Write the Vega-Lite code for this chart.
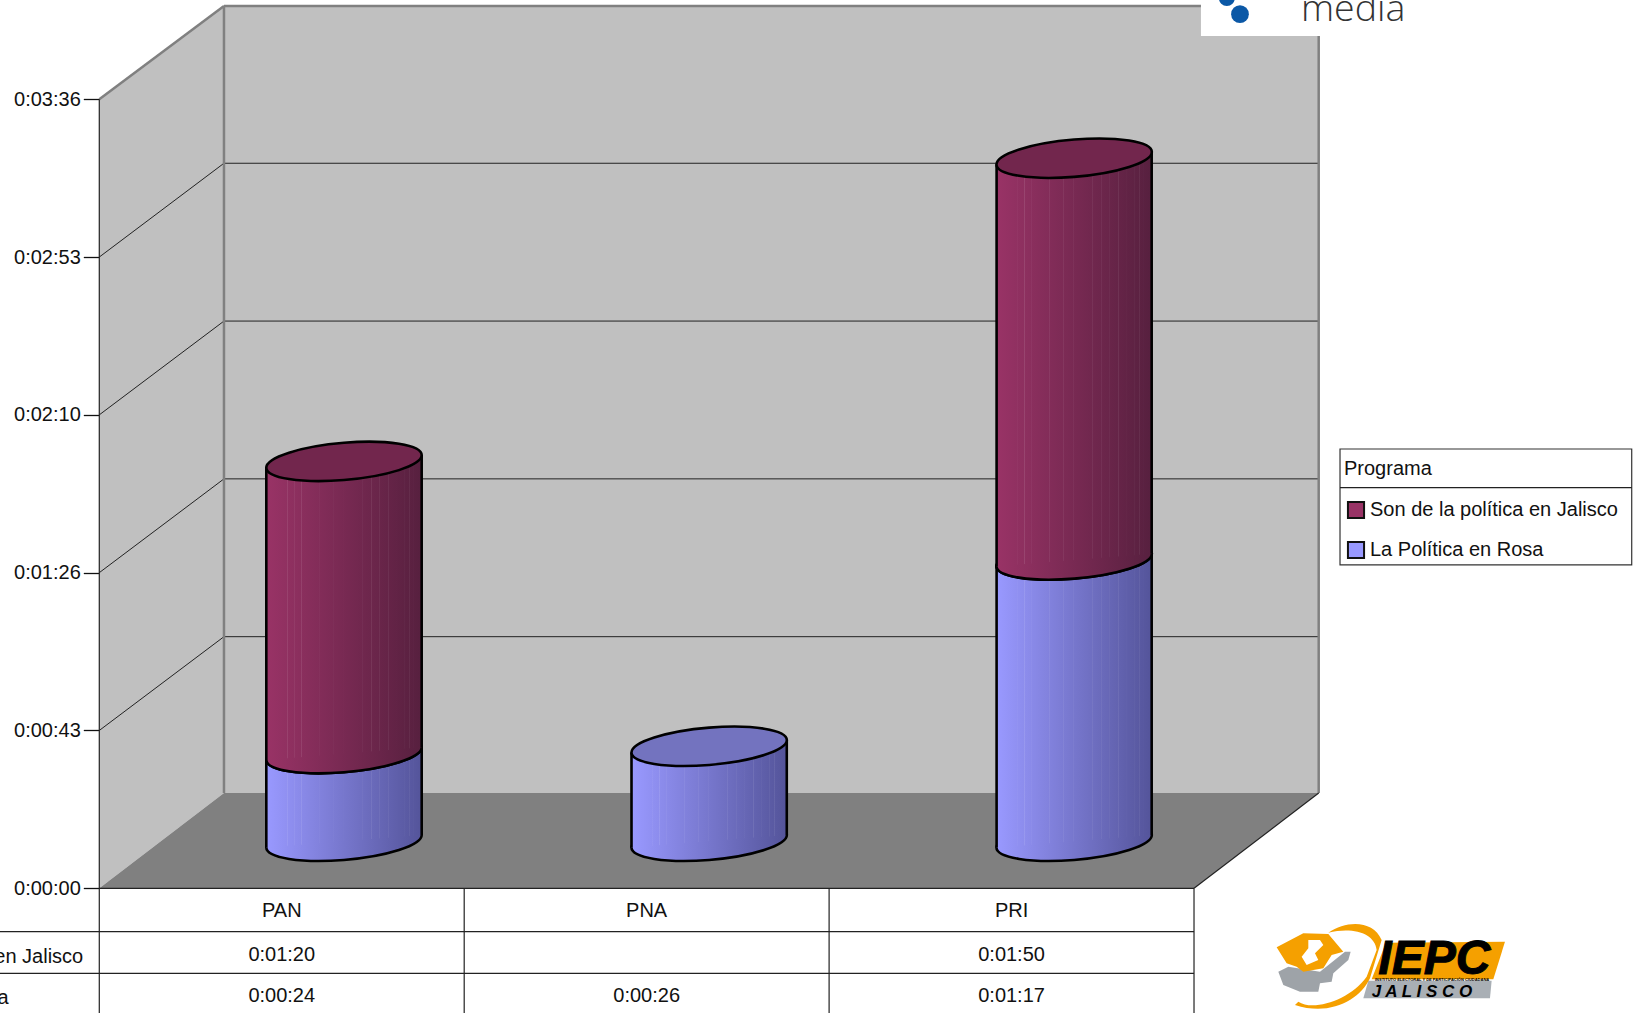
{"$schema":"https://vega.github.io/schema/vega-lite/v6.json","width":1645,"height":1013,"padding":0,"autosize":{"type":"none"},"background":"white",
"config":{"view":{"stroke":null},"font":"Liberation Sans","text":{"font":"Liberation Sans"}},
"datasets":{
"barras":[
{"partido":"PAN","programa":"La Política en Rosa","segundos":24,"inicio":0,"fin":24,"izq":0.4577,"centro":0.6706,"der":0.8835},
{"partido":"PAN","programa":"Son de la política en Jalisco","segundos":80,"inicio":24,"fin":104,"izq":0.4577,"centro":0.6706,"der":0.8835},
{"partido":"PNA","programa":"La Política en Rosa","segundos":26,"inicio":0,"fin":26,"izq":1.4585,"centro":1.6713,"der":1.884},
{"partido":"PRI","programa":"La Política en Rosa","segundos":77,"inicio":0,"fin":77,"izq":2.459,"centro":2.6715,"der":2.884},
{"partido":"PRI","programa":"Son de la política en Jalisco","segundos":110,"inicio":77,"fin":187,"izq":2.459,"centro":2.6715,"der":2.884}],
"marcas":[{"marca":43.2},{"marca":86.4},{"marca":129.6},{"marca":172.8},{"marca":216}],
"paredIzq":[{"x":0,"y":0,"y2":216},{"x":0.3417,"y":26.1,"y2":241.5}],
"piso":[{"x":0,"y":0,"y2":0},{"x":0.3417,"y":0,"y2":26.1},{"x":3,"y":0,"y2":26.1},{"x":3.3417,"y":26.1,"y2":26.1}],
"gris":[{"x":0,"x2":0.3417,"y":216,"y2":241.5},{"x":0.3417,"x2":0.3417,"y":26.1,"y2":241.5},{"x":0.3417,"x2":3.3417,"y":241.5,"y2":241.5},{"x":3.3417,"x2":3.3417,"y":26.1,"y2":241.5}],
"negro":[{"x":0,"x2":0,"y":-34.14,"y2":216},{"x":0,"x2":3,"y":0,"y2":0},{"x":3,"x2":3.3417,"y":0,"y2":26.1},{"x":3,"x2":3,"y":-34.14,"y2":0},{"x":1,"x2":1,"y":-34.14,"y2":0},{"x":2,"x2":2,"y":-34.14,"y2":0},{"x":-0.2721,"x2":3,"y":-11.88,"y2":-11.88},{"x":-0.2721,"x2":3,"y":-23.27,"y2":-23.27},{"x":3.4001,"x2":4.1995,"y":109.66,"y2":109.66}],
"tabla":[
{"x":0.5,"y":-6.1,"texto":"PAN"},{"x":1.5,"y":-6.1,"texto":"PNA"},{"x":2.5,"y":-6.1,"texto":"PRI"},
{"x":0.5,"y":-18.2,"texto":"0:01:20"},{"x":2.5,"y":-18.2,"texto":"0:01:50"},
{"x":0.5,"y":-29.4,"texto":"0:00:24"},{"x":1.5,"y":-29.4,"texto":"0:00:26"},{"x":2.5,"y":-29.4,"texto":"0:01:17"}],
"filas":[{"x":-0.7235,"y":-18.7,"texto":"Son de la política en Jalisco"},{"x":-0.7235,"y":-29.9,"texto":"La Política en Rosa"}],
"ancla":[{"x":3.1808,"y":-5.94}]
},
"layer":[
{"data":{"name":"paredIzq"},"mark":{"type":"area","color":"#C0C0C0"},"encoding":{"x":{"field":"x","type":"quantitative","axis":null,"scale":{"domain":[-0.2721,4.2359],"nice":false,"zero":false}},"y":{"field":"y","type":"quantitative","stack":null,"scale":{"domain":[-34.14,243.17],"nice":false,"zero":false},"axis":{"title":null,"values":[0,43.2,86.4,129.6,172.8,216],"labelExpr":"'0:'+timeFormat(datetime(2000,0,1,0,0,round(datum.value)),'%M:%S')","domain":false,"grid":false,"tickSize":16,"tickColor":"#111","tickWidth":1.3,"labelPadding":3,"labelFont":"Liberation Sans","labelFontSize":20,"labelColor":"#111","offset":-99.3,"labelOverlap":false,"labelBound":false,"labelFlush":false}},"y2":{"field":"y2"}}},
{"data":{"values":[{"x":0.3417,"x2":3.3417,"y":26.1,"y2":241.5}]},"mark":{"type":"rect","color":"#C0C0C0"},"encoding":{"x":{"field":"x","type":"quantitative","axis":null},"x2":{"field":"x2"},"y":{"field":"y","type":"quantitative"},"y2":{"field":"y2"}}},
{"data":{"name":"piso"},"mark":{"type":"area","color":"#808080"},"encoding":{"x":{"field":"x","type":"quantitative","axis":null},"y":{"field":"y","type":"quantitative","stack":null},"y2":{"field":"y2"}}},
{"data":{"name":"marcas"},"transform":[{"filter":"datum.marca<216"}],"mark":{"type":"rule","color":"#222","strokeWidth":1,"y2Offset":-93.8},"encoding":{"x":{"datum":0,"type":"quantitative","axis":null},"x2":{"datum":0.3417},"y":{"field":"marca","type":"quantitative"},"y2":{"field":"marca"}}},
{"data":{"name":"marcas"},"transform":[{"filter":"datum.marca<216"}],"mark":{"type":"rule","color":"#222","strokeWidth":1,"yOffset":-93.8},"encoding":{"x":{"datum":0.3417,"type":"quantitative","axis":null},"x2":{"datum":3.3417},"y":{"field":"marca","type":"quantitative"}}},
{"data":{"name":"gris"},"mark":{"type":"rule","color":"#808080","strokeWidth":2.5},"encoding":{"x":{"field":"x","type":"quantitative","axis":null},"x2":{"field":"x2"},"y":{"field":"y","type":"quantitative"},"y2":{"field":"y2"}}},
{"data":{"name":"negro"},"mark":{"type":"rule","color":"#222","strokeWidth":1.2},"encoding":{"x":{"field":"x","type":"quantitative","axis":null},"x2":{"field":"x2"},"y":{"field":"y","type":"quantitative"},"y2":{"field":"y2"}}},
{"data":{"values":[{"x":3.4001,"x2":4.1995,"y":88.55,"y2":120.26}]},"mark":{"type":"rect","fill":"white","stroke":"#333","strokeWidth":1.2},"encoding":{"x":{"field":"x","type":"quantitative","axis":null},"x2":{"field":"x2"},"y":{"field":"y","type":"quantitative"},"y2":{"field":"y2"}}},
{"data":{"values":[{"x":3.4001,"x2":4.1995,"y":109.66}]},"mark":{"type":"rule","color":"#222","strokeWidth":1.2},"encoding":{"x":{"field":"x","type":"quantitative","axis":null},"x2":{"field":"x2"},"y":{"field":"y","type":"quantitative"}}},
{"data":{"name":"barras"},"mark":{"type":"bar"},"encoding":{"x":{"field":"centro","type":"quantitative","axis":null},"x2":{"field":"centro"},"y":{"field":"inicio","type":"quantitative"},"y2":{"field":"inicio"},"color":{"field":"programa","type":"nominal","scale":{"domain":["Son de la política en Jalisco","La Política en Rosa"],"range":["#993366","#9999FF"]},"legend":{"title":"Programa","orient":"none","legendX":1340,"legendY":455,"padding":4,"titleFont":"Liberation Sans","titleFontWeight":"normal","titleFontSize":20,"titleColor":"#111","titlePadding":21,"labelFont":"Liberation Sans","labelFontSize":20,"labelColor":"#111","labelLimit":400,"labelOffset":4,"symbolType":"square","symbolSize":260,"symbolStrokeColor":"#111","symbolStrokeWidth":2,"symbolOpacity":1,"rowPadding":14,"symbolOffset":2}}}},

{"data":{"name":"barras"},"transform":[{"filter":"datum.programa=='La Política en Rosa'"}],"mark":{"type":"point","filled":true,"opacity":1,"fill":{"gradient":"linear","x1":0,"y1":0,"x2":1,"y2":0,"stops":[{"offset":0,"color":"#9999FF"},{"offset":1,"color":"#54549A"}]},"stroke":"black","strokeWidth":2.6,"size":24149,"yOffset":-47,"shape":"M1 -0.081C1 0.0516 0.5523 0.1953 0 0.24C-0.5523 0.2847 -1 0.2136 -1 0.081C-1 -0.0516 -0.5523 -0.1953 0 -0.24C0.5523 -0.2847 1 -0.2136 1 -0.081Z"},"encoding":{"x":{"field":"centro","type":"quantitative","axis":null},"y":{"field":"inicio","type":"quantitative"}}},
{"data":{"name":"barras"},"transform":[{"filter":"datum.programa=='La Política en Rosa'"},{"fold":["izq","der"],"as":["lado","posicion"]}],"mark":{"type":"area","fill":{"gradient":"linear","x1":0,"y1":0,"x2":1,"y2":0,"stops":[{"offset":0,"color":"#9999FF"},{"offset":1,"color":"#54549A"}]},"yOffset":{"expr":"datum.lado=='izq'?-40.7:-53.3"},"y2Offset":{"expr":"datum.lado=='izq'?-40.7:-53.3"}},"encoding":{"x":{"field":"posicion","type":"quantitative","axis":null},"y":{"field":"fin","type":"quantitative","stack":null},"y2":{"field":"inicio"},"detail":{"field":"partido"}}},
{"data":{"name":"barras"},"transform":[{"filter":"datum.programa=='La Política en Rosa'"},{"fold":["izq","der"],"as":["lado","posicion"]}],"mark":{"type":"area","fill":{"gradient":"linear","x1":0,"y1":0,"x2":1,"y2":0,"stops":[{"offset":0.134,"color":"rgba(255,255,255,0)"},{"offset":0.137,"color":"rgba(255,255,255,0.1)"},{"offset":0.14,"color":"rgba(255,255,255,0)"},{"offset":0.177,"color":"rgba(255,255,255,0)"},{"offset":0.18,"color":"rgba(255,255,255,0.1)"},{"offset":0.183,"color":"rgba(255,255,255,0)"},{"offset":0.224,"color":"rgba(255,255,255,0)"},{"offset":0.227,"color":"rgba(255,255,255,0.1)"},{"offset":0.23,"color":"rgba(255,255,255,0)"},{"offset":0.337,"color":"rgba(255,255,255,0)"},{"offset":0.34,"color":"rgba(255,255,255,0.1)"},{"offset":0.343,"color":"rgba(255,255,255,0)"},{"offset":0.427,"color":"rgba(255,255,255,0)"},{"offset":0.43,"color":"rgba(255,255,255,0.1)"},{"offset":0.433,"color":"rgba(255,255,255,0)"},{"offset":0.491,"color":"rgba(255,255,255,0)"},{"offset":0.494,"color":"rgba(255,255,255,0.1)"},{"offset":0.497,"color":"rgba(255,255,255,0)"},{"offset":0.614,"color":"rgba(255,255,255,0)"},{"offset":0.617,"color":"rgba(255,255,255,0.1)"},{"offset":0.62,"color":"rgba(255,255,255,0)"},{"offset":0.675,"color":"rgba(255,255,255,0)"},{"offset":0.678,"color":"rgba(255,255,255,0.1)"},{"offset":0.681,"color":"rgba(255,255,255,0)"},{"offset":0.727,"color":"rgba(255,255,255,0)"},{"offset":0.73,"color":"rgba(255,255,255,0.1)"},{"offset":0.733,"color":"rgba(255,255,255,0)"},{"offset":0.782,"color":"rgba(255,255,255,0)"},{"offset":0.785,"color":"rgba(255,255,255,0.1)"},{"offset":0.788,"color":"rgba(255,255,255,0)"},{"offset":0.832,"color":"rgba(255,255,255,0)"},{"offset":0.835,"color":"rgba(255,255,255,0.1)"},{"offset":0.838,"color":"rgba(255,255,255,0)"},{"offset":0.884,"color":"rgba(255,255,255,0)"},{"offset":0.887,"color":"rgba(255,255,255,0.1)"},{"offset":0.89,"color":"rgba(255,255,255,0)"},{"offset":0.917,"color":"rgba(255,255,255,0)"},{"offset":0.92,"color":"rgba(255,255,255,0.1)"},{"offset":0.923,"color":"rgba(255,255,255,0)"},{"offset":0.947,"color":"rgba(255,255,255,0)"},{"offset":0.95,"color":"rgba(255,255,255,0.1)"},{"offset":0.953,"color":"rgba(255,255,255,0)"}]},"yOffset":{"expr":"datum.lado=='izq'?-40.7:-53.3"},"y2Offset":{"expr":"datum.lado=='izq'?-40.7:-53.3"}},"encoding":{"x":{"field":"posicion","type":"quantitative","axis":null},"y":{"field":"fin","type":"quantitative","stack":null},"y2":{"field":"inicio"},"detail":{"field":"partido"}}},
{"data":{"name":"barras"},"transform":[{"filter":"datum.programa=='La Política en Rosa'"}],"mark":{"type":"rule","color":"black","strokeWidth":2.6,"yOffset":-40.7,"y2Offset":-40.7},"encoding":{"x":{"field":"izq","type":"quantitative","axis":null},"y":{"field":"inicio","type":"quantitative"},"y2":{"field":"fin"}}},
{"data":{"name":"barras"},"transform":[{"filter":"datum.programa=='La Política en Rosa'"}],"mark":{"type":"rule","color":"black","strokeWidth":2.6,"yOffset":-53.3,"y2Offset":-53.3},"encoding":{"x":{"field":"der","type":"quantitative","axis":null},"y":{"field":"inicio","type":"quantitative"},"y2":{"field":"fin"}}},
{"data":{"name":"barras"},"transform":[{"filter":"datum.programa=='La Política en Rosa'"}],"mark":{"type":"point","filled":true,"opacity":1,"fill":"#7373BF","stroke":"black","strokeWidth":2.6,"size":24149,"yOffset":-47,"shape":"M1 -0.081C1 0.0516 0.5523 0.1953 0 0.24C-0.5523 0.2847 -1 0.2136 -1 0.081C-1 -0.0516 -0.5523 -0.1953 0 -0.24C0.5523 -0.2847 1 -0.2136 1 -0.081Z"},"encoding":{"x":{"field":"centro","type":"quantitative","axis":null},"y":{"field":"fin","type":"quantitative"}}},

{"data":{"name":"barras"},"transform":[{"filter":"datum.programa!='La Política en Rosa'"}],"mark":{"type":"point","filled":true,"opacity":1,"fill":{"gradient":"linear","x1":0,"y1":0,"x2":1,"y2":0,"stops":[{"offset":0,"color":"#993366"},{"offset":1,"color":"#57203F"}]},"stroke":"black","strokeWidth":2.6,"size":24149,"yOffset":-47,"shape":"M1 -0.081C1 0.0516 0.5523 0.1953 0 0.24C-0.5523 0.2847 -1 0.2136 -1 0.081C-1 -0.0516 -0.5523 -0.1953 0 -0.24C0.5523 -0.2847 1 -0.2136 1 -0.081Z"},"encoding":{"x":{"field":"centro","type":"quantitative","axis":null},"y":{"field":"inicio","type":"quantitative"}}},
{"data":{"name":"barras"},"transform":[{"filter":"datum.programa!='La Política en Rosa'"},{"fold":["izq","der"],"as":["lado","posicion"]}],"mark":{"type":"area","fill":{"gradient":"linear","x1":0,"y1":0,"x2":1,"y2":0,"stops":[{"offset":0,"color":"#993366"},{"offset":1,"color":"#57203F"}]},"yOffset":{"expr":"datum.lado=='izq'?-40.7:-53.3"},"y2Offset":{"expr":"datum.lado=='izq'?-40.7:-53.3"}},"encoding":{"x":{"field":"posicion","type":"quantitative","axis":null},"y":{"field":"fin","type":"quantitative","stack":null},"y2":{"field":"inicio"},"detail":{"field":"partido"}}},
{"data":{"name":"barras"},"transform":[{"filter":"datum.programa!='La Política en Rosa'"},{"fold":["izq","der"],"as":["lado","posicion"]}],"mark":{"type":"area","fill":{"gradient":"linear","x1":0,"y1":0,"x2":1,"y2":0,"stops":[{"offset":0.134,"color":"rgba(255,255,255,0)"},{"offset":0.137,"color":"rgba(255,255,255,0.1)"},{"offset":0.14,"color":"rgba(255,255,255,0)"},{"offset":0.177,"color":"rgba(255,255,255,0)"},{"offset":0.18,"color":"rgba(255,255,255,0.1)"},{"offset":0.183,"color":"rgba(255,255,255,0)"},{"offset":0.224,"color":"rgba(255,255,255,0)"},{"offset":0.227,"color":"rgba(255,255,255,0.1)"},{"offset":0.23,"color":"rgba(255,255,255,0)"},{"offset":0.337,"color":"rgba(255,255,255,0)"},{"offset":0.34,"color":"rgba(255,255,255,0.1)"},{"offset":0.343,"color":"rgba(255,255,255,0)"},{"offset":0.427,"color":"rgba(255,255,255,0)"},{"offset":0.43,"color":"rgba(255,255,255,0.1)"},{"offset":0.433,"color":"rgba(255,255,255,0)"},{"offset":0.491,"color":"rgba(255,255,255,0)"},{"offset":0.494,"color":"rgba(255,255,255,0.1)"},{"offset":0.497,"color":"rgba(255,255,255,0)"},{"offset":0.614,"color":"rgba(255,255,255,0)"},{"offset":0.617,"color":"rgba(255,255,255,0.1)"},{"offset":0.62,"color":"rgba(255,255,255,0)"},{"offset":0.675,"color":"rgba(255,255,255,0)"},{"offset":0.678,"color":"rgba(255,255,255,0.1)"},{"offset":0.681,"color":"rgba(255,255,255,0)"},{"offset":0.727,"color":"rgba(255,255,255,0)"},{"offset":0.73,"color":"rgba(255,255,255,0.1)"},{"offset":0.733,"color":"rgba(255,255,255,0)"},{"offset":0.782,"color":"rgba(255,255,255,0)"},{"offset":0.785,"color":"rgba(255,255,255,0.1)"},{"offset":0.788,"color":"rgba(255,255,255,0)"},{"offset":0.832,"color":"rgba(255,255,255,0)"},{"offset":0.835,"color":"rgba(255,255,255,0.1)"},{"offset":0.838,"color":"rgba(255,255,255,0)"},{"offset":0.884,"color":"rgba(255,255,255,0)"},{"offset":0.887,"color":"rgba(255,255,255,0.1)"},{"offset":0.89,"color":"rgba(255,255,255,0)"},{"offset":0.917,"color":"rgba(255,255,255,0)"},{"offset":0.92,"color":"rgba(255,255,255,0.1)"},{"offset":0.923,"color":"rgba(255,255,255,0)"},{"offset":0.947,"color":"rgba(255,255,255,0)"},{"offset":0.95,"color":"rgba(255,255,255,0.1)"},{"offset":0.953,"color":"rgba(255,255,255,0)"}]},"yOffset":{"expr":"datum.lado=='izq'?-40.7:-53.3"},"y2Offset":{"expr":"datum.lado=='izq'?-40.7:-53.3"}},"encoding":{"x":{"field":"posicion","type":"quantitative","axis":null},"y":{"field":"fin","type":"quantitative","stack":null},"y2":{"field":"inicio"},"detail":{"field":"partido"}}},
{"data":{"name":"barras"},"transform":[{"filter":"datum.programa!='La Política en Rosa'"}],"mark":{"type":"rule","color":"black","strokeWidth":2.6,"yOffset":-40.7,"y2Offset":-40.7},"encoding":{"x":{"field":"izq","type":"quantitative","axis":null},"y":{"field":"inicio","type":"quantitative"},"y2":{"field":"fin"}}},
{"data":{"name":"barras"},"transform":[{"filter":"datum.programa!='La Política en Rosa'"}],"mark":{"type":"rule","color":"black","strokeWidth":2.6,"yOffset":-53.3,"y2Offset":-53.3},"encoding":{"x":{"field":"der","type":"quantitative","axis":null},"y":{"field":"inicio","type":"quantitative"},"y2":{"field":"fin"}}},
{"data":{"name":"barras"},"transform":[{"filter":"datum.programa!='La Política en Rosa'"}],"mark":{"type":"point","filled":true,"opacity":1,"fill":"#72264D","stroke":"black","strokeWidth":2.6,"size":24149,"yOffset":-47,"shape":"M1 -0.081C1 0.0516 0.5523 0.1953 0 0.24C-0.5523 0.2847 -1 0.2136 -1 0.081C-1 -0.0516 -0.5523 -0.1953 0 -0.24C0.5523 -0.2847 1 -0.2136 1 -0.081Z"},"encoding":{"x":{"field":"centro","type":"quantitative","axis":null},"y":{"field":"fin","type":"quantitative"}}},

{"data":{"name":"tabla"},"mark":{"type":"text","font":"Liberation Sans","fontSize":20,"color":"#111","align":"center","baseline":"middle"},"encoding":{"x":{"field":"x","type":"quantitative","axis":null},"y":{"field":"y","type":"quantitative"},"text":{"field":"texto"}}},
{"data":{"name":"filas"},"mark":{"type":"text","font":"Liberation Sans","fontSize":20,"color":"#111","align":"left","baseline":"middle"},"encoding":{"x":{"field":"x","type":"quantitative","axis":null},"y":{"field":"y","type":"quantitative"},"text":{"field":"texto"}}},

{"data":{"values":[{"x":3.019,"x2":3.372,"y":233.3,"y2":243.17}]},"mark":{"type":"rect","color":"white"},"encoding":{"x":{"field":"x","type":"quantitative","axis":null},"x2":{"field":"x2"},"y":{"field":"y","type":"quantitative"},"y2":{"field":"y2"}}},
{"data":{"values":[{"x":3.126,"y":239.3,"s":314},{"x":3.09,"y":243.7,"s":254}]},"mark":{"type":"circle","color":"#0B58A6","opacity":1},"encoding":{"x":{"field":"x","type":"quantitative","axis":null},"y":{"field":"y","type":"quantitative"},"size":{"field":"s","type":"quantitative","scale":null,"legend":null}}},
{"data":{"values":[{"x":3.293,"y":237.4,"t":"media"}]},"mark":{"type":"text","font":"Open Sans","fontWeight":300,"fontSize":37.5,"color":"#333","align":"left","baseline":"alphabetic"},"encoding":{"x":{"field":"x","type":"quantitative","axis":null},"y":{"field":"y","type":"quantitative"},"text":{"field":"t"}}},

{"data":{"name":"ancla"},"mark":{"type":"point","filled":true,"opacity":1,"fill":"#F5A000","size":0.4444,"shape":"M378 98L735 95L700 208L335 208Z"},"encoding":{"x":{"field":"x","type":"quantitative","axis":null},"y":{"field":"y","type":"quantitative"}}},
{"data":{"name":"ancla"},"mark":{"type":"point","filled":true,"opacity":1,"fill":"#A9AFB5","size":0.4444,"shape":"M325 212L695 212L690 265L310 265Z"},"encoding":{"x":{"field":"x","type":"quantitative","axis":null},"y":{"field":"y","type":"quantitative"}}},
{"data":{"name":"ancla"},"mark":{"type":"point","filled":true,"opacity":1,"fill":"#9EA3A8","size":0.4444,"shape":"M55 185L85 170L180 185L255 125L272 125L265 150L220 190L215 215L180 220L175 245L120 245L70 225Z"},"encoding":{"x":{"field":"x","type":"quantitative","axis":null},"y":{"field":"y","type":"quantitative"}}},
{"data":{"name":"ancla"},"mark":{"type":"point","filled":true,"opacity":1,"fill":"#F5A000","size":0.4444,"shape":"M50 112L130 70L205 72L250 125L215 135L190 175L130 185L110 170L80 160Z"},"encoding":{"x":{"field":"x","type":"quantitative","axis":null},"y":{"field":"y","type":"quantitative"}}},
{"data":{"name":"ancla"},"mark":{"type":"point","filled":true,"opacity":1,"fill":"white","size":0.4444,"shape":"M145 90L180 90L190 105L165 130L175 150L140 165L125 140L145 115Z"},"encoding":{"x":{"field":"x","type":"quantitative","axis":null},"y":{"field":"y","type":"quantitative"}}},
{"data":{"name":"ancla"},"mark":{"type":"point","filled":true,"opacity":1,"fill":"#F5A000","size":0.4444,"shape":"M205 68C260 30 340 30 365 90L330 205C300 270 210 320 105 285L115 275C160 305 270 270 320 200L350 120C345 70 280 50 205 68Z"},"encoding":{"x":{"field":"x","type":"quantitative","axis":null},"y":{"field":"y","type":"quantitative"}}},
{"data":{"values":[{"x":3.505,"y":-23.46,"t":"IEPC"}]},"mark":{"type":"text","font":"Liberation Sans","fontWeight":"bold","fontStyle":"italic","fontSize":48,"color":"black","stroke":"black","strokeWidth":1,"align":"left","baseline":"alphabetic"},"encoding":{"x":{"field":"x","type":"quantitative","axis":null},"y":{"field":"y","type":"quantitative"},"text":{"field":"t"}}},
{"data":{"values":[{"x":3.487,"y":-29.84,"t":"J A L I S C O"}]},"mark":{"type":"text","font":"Liberation Sans","fontWeight":"bold","fontStyle":"italic","fontSize":17,"color":"black","align":"left","baseline":"alphabetic"},"encoding":{"x":{"field":"x","type":"quantitative","axis":null},"y":{"field":"y","type":"quantitative"},"text":{"field":"t"}}},
{"data":{"values":[{"x":3.496,"y":-25.38,"t":"INSTITUTO ELECTORAL Y DE PARTICIPACIÓN CIUDADANA"}]},"mark":{"type":"text","font":"Liberation Sans","fontWeight":"bold","fontSize":4,"color":"black","align":"left","baseline":"alphabetic"},"encoding":{"x":{"field":"x","type":"quantitative","axis":null},"y":{"field":"y","type":"quantitative"},"text":{"field":"t"}}}
]}
